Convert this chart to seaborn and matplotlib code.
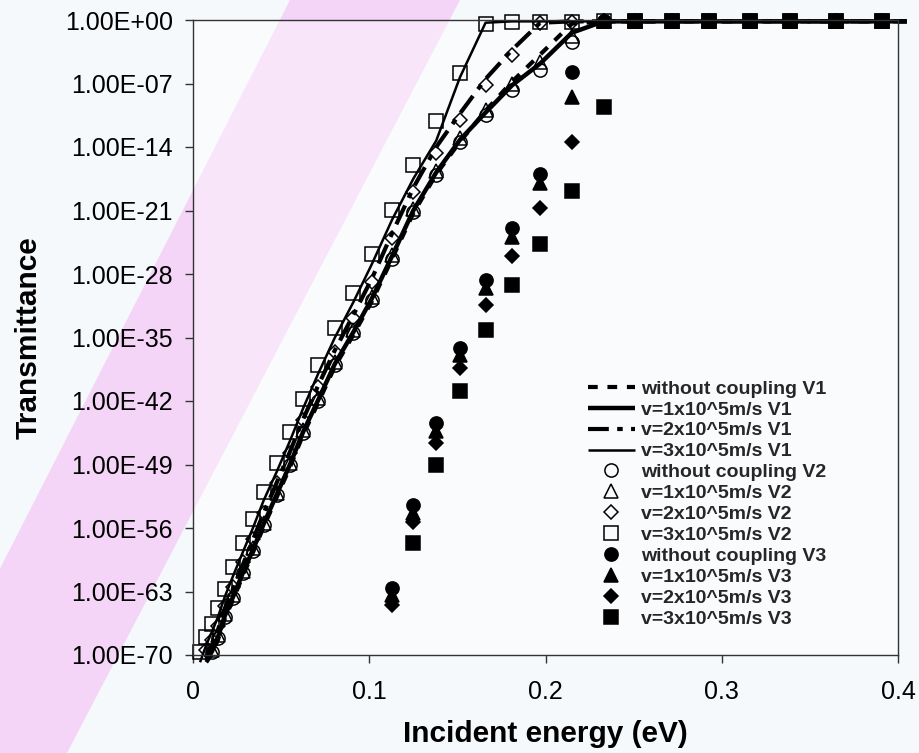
"""
Transmittance vs incident energy for three barrier profiles (V1, V2, V3)
"""

import numpy as np
import matplotlib
matplotlib.use("Agg")
import matplotlib.pyplot as plt
from matplotlib.patches import Polygon
from matplotlib.ticker import FixedLocator, FuncFormatter, NullLocator
import seaborn as sns

nan = np.nan

# incident energy grid (eV)
energy = [0.004, 0.0075, 0.0108, 0.0142, 0.018, 0.0227, 0.0284, 0.034, 0.040, 0.0475,
          0.055, 0.0625, 0.071, 0.0805, 0.091, 0.1015, 0.113, 0.125, 0.138, 0.1515,
          0.166, 0.181, 0.197, 0.215, 0.233, 0.251, 0.272, 0.293, 0.316, 0.339,
          0.365, 0.391, 0.405]

# log10(transmittance) for each series
# V1 -> lines
v1_none = [nan, -70.8, -69.9, -68.3, -66.0, -63.9, -61.2, -58.7, -55.9, -52.6,
           -49.3, -45.7, -42.2, -38.2, -34.7, -31.0, -26.3, -21.3, -17.0, -13.4,
           -10.0, -6.8, -3.8, -0.4, -0.15, -0.15, -0.15, -0.15, -0.15, -0.15,
           -0.15, -0.15, -0.15]
v1_v1 = [nan, -70.6, -69.6, -68.0, -65.7, -63.6, -60.9, -58.4, -55.6, -52.3,
         -49.0, -45.4, -41.9, -37.9, -34.4, -30.7, -26.0, -21.0, -16.8, -13.2,
         -10.2, -7.2, -4.8, -1.4, -0.15, -0.15, -0.15, -0.15, -0.15, -0.15,
         -0.15, -0.15, -0.15]
v1_v2 = [nan, -70.3, -68.9, -67.2, -64.9, -62.7, -60.0, -57.3, -54.4, -51.0,
         -47.6, -44.0, -40.3, -36.4, -32.5, -28.5, -23.5, -18.5, -14.0, -10.3,
         -6.5, -3.3, -0.3, -0.15, -0.15, -0.15, -0.15, -0.15, -0.15, -0.15,
         -0.15, -0.15, -0.15]
v1_v3 = [-70.8, -68.9, -67.4, -65.8, -63.6, -61.3, -58.6, -56.0, -53.0, -49.8,
         -46.4, -42.8, -39.0, -35.0, -31.1, -26.9, -22.0, -17.5, -13.3, -6.3,
         -0.3, -0.15, -0.15, -0.15, -0.15, -0.15, -0.15, -0.15, -0.15, -0.15,
         -0.15, -0.15, -0.15]

# V2 -> open markers
v2_none = [nan, nan, -69.7, -68.1, -65.8, -63.7, -61.0, -58.5, -55.7, -52.4,
           -49.1, -45.5, -42.0, -38.0, -34.5, -30.9, -26.3, -21.2, -17.1, -13.5,
           -10.5, -7.7, -5.5, -2.4, -0.15, -0.15, -0.15, -0.15, -0.15, -0.15,
           -0.15, -0.15, nan]
v2_v1 = [nan, nan, -69.4, -67.8, -65.5, -63.4, -60.7, -58.2, -55.4, -52.1,
         -48.8, -45.2, -41.7, -37.7, -34.2, -30.5, -25.9, -20.8, -16.6, -13.0,
         -9.9, -7.0, -4.6, -1.8, -0.15, -0.15, -0.15, -0.15, -0.15, -0.15,
         -0.15, -0.15, nan]
v2_v2 = [nan, -69.5, -68.3, -66.8, -64.6, -62.5, -59.8, -57.2, -54.3, -51.0,
         -47.7, -44.1, -40.5, -36.6, -32.8, -28.9, -24.0, -19.0, -14.7, -11.0,
         -7.2, -3.9, -0.3, -0.2, -0.15, -0.15, -0.15, -0.15, -0.15, -0.15,
         -0.15, -0.15, nan]
v2_v3 = [-69.7, -68.0, -66.6, -64.8, -62.7, -60.3, -57.6, -55.0, -52.0, -48.8,
         -45.4, -41.8, -38.0, -34.0, -30.1, -25.8, -20.9, -16.0, -11.1, -5.8,
         -0.4, -0.2, -0.25, -0.2, -0.15, -0.15, -0.15, -0.15, -0.15, -0.15,
         -0.15, -0.15, nan]

# V3 -> filled markers
v3_none = [nan, nan, nan, nan, nan, nan, nan, nan, nan, nan,
           nan, nan, nan, nan, nan, nan, -62.6, -53.5, -44.4, -36.2,
           -28.7, -22.9, -17.0, -5.7, -0.15, -0.15, -0.15, -0.15, -0.15, -0.15,
           -0.15, -0.15, nan]
v3_v1 = [nan, nan, nan, nan, nan, nan, nan, nan, nan, nan,
         nan, nan, nan, nan, nan, nan, -63.4, -54.4, -45.3, -36.9,
         -29.5, -23.9, -18.0, -8.5, -0.15, -0.15, -0.15, -0.15, -0.15, -0.15,
         -0.15, -0.15, nan]
v3_v2 = [nan, nan, nan, nan, nan, nan, nan, nan, nan, nan,
         nan, nan, nan, nan, nan, nan, -64.5, -55.3, -46.6, -38.4,
         -31.4, -26.0, -20.7, -13.5, -0.15, -0.15, -0.15, -0.15, -0.15, -0.15,
         -0.15, -0.15, nan]
v3_v3 = [nan, nan, nan, nan, nan, nan, nan, nan, nan, nan,
         nan, nan, nan, nan, nan, nan, nan, -57.7, -49.0, -40.9,
         -34.2, -29.2, -24.7, -18.9, -9.6, -0.15, -0.15, -0.15, -0.15, -0.15,
         -0.15, -0.15, nan]

labels = ["without coupling", "v=1x10^5m/s", "v=2x10^5m/s", "v=3x10^5m/s"]

y_ticks = [1e0, 1e-7, 1e-14, 1e-21, 1e-28, 1e-35, 1e-42, 1e-49, 1e-56, 1e-63, 1e-70]
x_ticks = [0, 0.1, 0.2, 0.3, 0.4]


def draw_curve(ax, exps, label, lw, dashes=None):
    t = 10.0 ** np.asarray(exps)
    sns.lineplot(x=energy, y=t, ax=ax, color="black", linewidth=lw,
                 label=label, clip_on=False, sort=False)
    line = ax.lines[-1]
    if dashes is not None:
        line.set_dashes(dashes)
    line.set_solid_capstyle("butt")
    line.set_dash_capstyle("butt")


def draw_points(ax, exps, label, marker, ms, filled):
    t = 10.0 ** np.asarray(exps)
    sns.lineplot(x=energy, y=t, ax=ax, color="black", linestyle="",
                 marker=marker, ms=ms, mec="black", mew=1.1,
                 mfc="black" if filled else "none",
                 label=label, clip_on=False, sort=False)


sns.set_theme(style="ticks")
plt.rcParams["font.family"] = ["Liberation Sans", "DejaVu Sans"]
plt.rcParams["lines.scale_dashes"] = False

fig = plt.figure(figsize=(9.19, 7.53), dpi=100, facecolor="#f6f9fb")

# pink diagonal band of the slide background
band = Polygon([(290 / 919, 1.0), (460 / 919, 1.0), (67 / 919, 0.0), (-94 / 919, 0.0)],
               closed=True, transform=fig.transFigure, facecolor="#f4d5f7",
               edgecolor="none", zorder=-5)
fig.add_artist(band)

ax = fig.add_axes([193 / 919, 1 - 655 / 753, (898 - 193) / 919, (655 - 20) / 753])
ax.set_facecolor((1, 1, 1, 0.4))

# V1: lines
draw_curve(ax, v1_none, labels[0] + " V1", 3.0, dashes=(7, 7))
draw_curve(ax, v1_v1, labels[1] + " V1", 3.2)
draw_curve(ax, v1_v2, labels[2] + " V1", 3.0, dashes=(15, 6, 4, 6))
draw_curve(ax, v1_v3, labels[3] + " V1", 1.8)

# V2: open markers
draw_points(ax, v2_none, labels[0] + " V2", "o", 9.5, False)
draw_points(ax, v2_v1, labels[1] + " V2", "^", 9.5, False)
draw_points(ax, v2_v2, labels[2] + " V2", "D", 7, False)
draw_points(ax, v2_v3, labels[3] + " V2", "s", 9.5, False)

# V3: filled markers
draw_points(ax, v3_none, labels[0] + " V3", "o", 9.5, True)
draw_points(ax, v3_v1, labels[1] + " V3", "^", 9.5, True)
draw_points(ax, v3_v2, labels[2] + " V3", "D", 7, True)
draw_points(ax, v3_v3, labels[3] + " V3", "s", 9.5, True)

ax.set_yscale("log")
ax.set_xlim(0, 0.4)
ax.set_ylim(1e-70, 1)
ax.yaxis.set_major_locator(FixedLocator(y_ticks))
ax.yaxis.set_minor_locator(NullLocator())
ax.yaxis.set_major_formatter(FuncFormatter(lambda v, _: f"{v:.2E}"))
ax.xaxis.set_major_locator(FixedLocator(x_ticks))
ax.xaxis.set_major_formatter(FuncFormatter(lambda v, _: f"{v:g}"))

for side in ["left", "right", "top", "bottom"]:
    ax.spines[side].set_visible(True)
    ax.spines[side].set_color("#333333")
    ax.spines[side].set_linewidth(1.0)

ax.tick_params(axis="y", direction="out", length=6, width=1, color="#333333",
               labelsize=18, pad=8.5, labelcolor="black")
ax.tick_params(axis="x", direction="out", length=6, width=1, color="#333333",
               labelsize=18, pad=12, labelcolor="black")

ax.set_xlabel("Incident energy (eV)", fontsize=21.5, fontweight="bold", color="black")
ax.set_ylabel("Transmittance", fontsize=21.5, fontweight="bold", color="black")
ax.xaxis.set_label_coords(0.5, -0.103)
ax.yaxis.set_label_coords(-0.213, 0.5)

handles, names = ax.get_legend_handles_labels()
ax.legend(handles, names, loc="upper left",
          bbox_to_anchor=(588 / 919, 1 - 380 / 753), bbox_transform=fig.transFigure,
          frameon=False, prop={"weight": "bold", "size": 14}, handlelength=2.4,
          handletextpad=0.35, labelspacing=0.17, borderpad=0, borderaxespad=0,
          numpoints=1)

fig.savefig("out.png", dpi=100, facecolor=fig.get_facecolor())
plt.close(fig)
